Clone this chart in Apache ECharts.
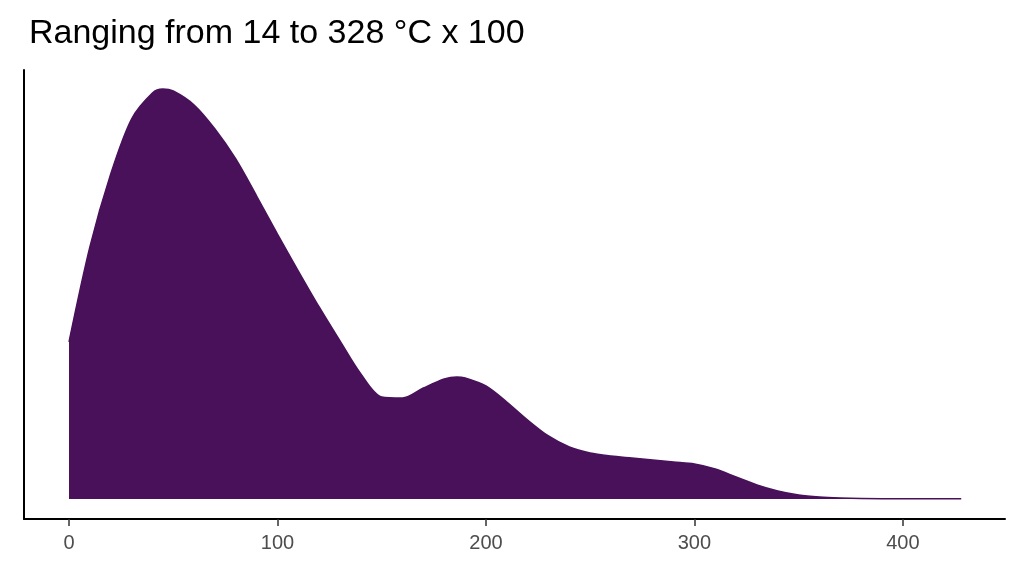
<!DOCTYPE html>
<html><head><meta charset="utf-8">
<script src="https://cdn.jsdelivr.net/npm/echarts@6/dist/echarts.min.js"></script>
<style>html,body{margin:0;padding:0;background:#fff}#c{width:1024px;height:576px}</style>
</head><body><div id="c"></div>
<script>
const xs = [0,10,20,30,40,45,50,60,70,80,90,100,110,120,130,140,150,160,170,180,186,190,200,210,220,230,240,250,260,270,280,290,300,310,320,330,340,350,360,370,380,400,428];
const ys = [157,252,325,380,406,410,408,394,370,340,303,265,228,192,158,125,102,101,111,120,122,121,113,97,79,63,52,46,43,41,39,37,35,30,22,14,8,4,2,1,0.5,0.2,0.2];
const ticks = [0,100,200,300,400];
const chart = echarts.init(document.getElementById('c'));
chart.setOption({
  animation:false,
  title:{text:'Ranging from 14 to 328 °C x 100',left:24,top:12,textStyle:{fontFamily:'Liberation Sans',fontSize:34,fontWeight:'normal',color:'#000'}},
  grid:{left:24,right:19,top:70,bottom:57},
  xAxis:{type:'value',min:-21.6,max:449,
    axisLine:{onZero:false,lineStyle:{color:'#000',width:2}},
    axisTick:{show:true,customValues:ticks,lineStyle:{color:'#333',width:1.5},length:7},
    axisLabel:{customValues:ticks,color:'#4d4d4d',fontSize:20,fontFamily:'Liberation Sans',margin:14},
    splitLine:{show:false}},
  yAxis:{type:'value',min:-20,max:429,
    axisLine:{show:true,onZero:false,lineStyle:{color:'#000',width:2}},
    axisTick:{show:false},axisLabel:{show:false},splitLine:{show:false}},
  series:[{type:'line',data:xs.map((x,i)=>[x,ys[i]]),smooth:0.3,symbol:'none',
    lineStyle:{color:'#481159',width:1.5},
    areaStyle:{color:'#481159',origin:0,opacity:1}}]
});
</script></body></html>
